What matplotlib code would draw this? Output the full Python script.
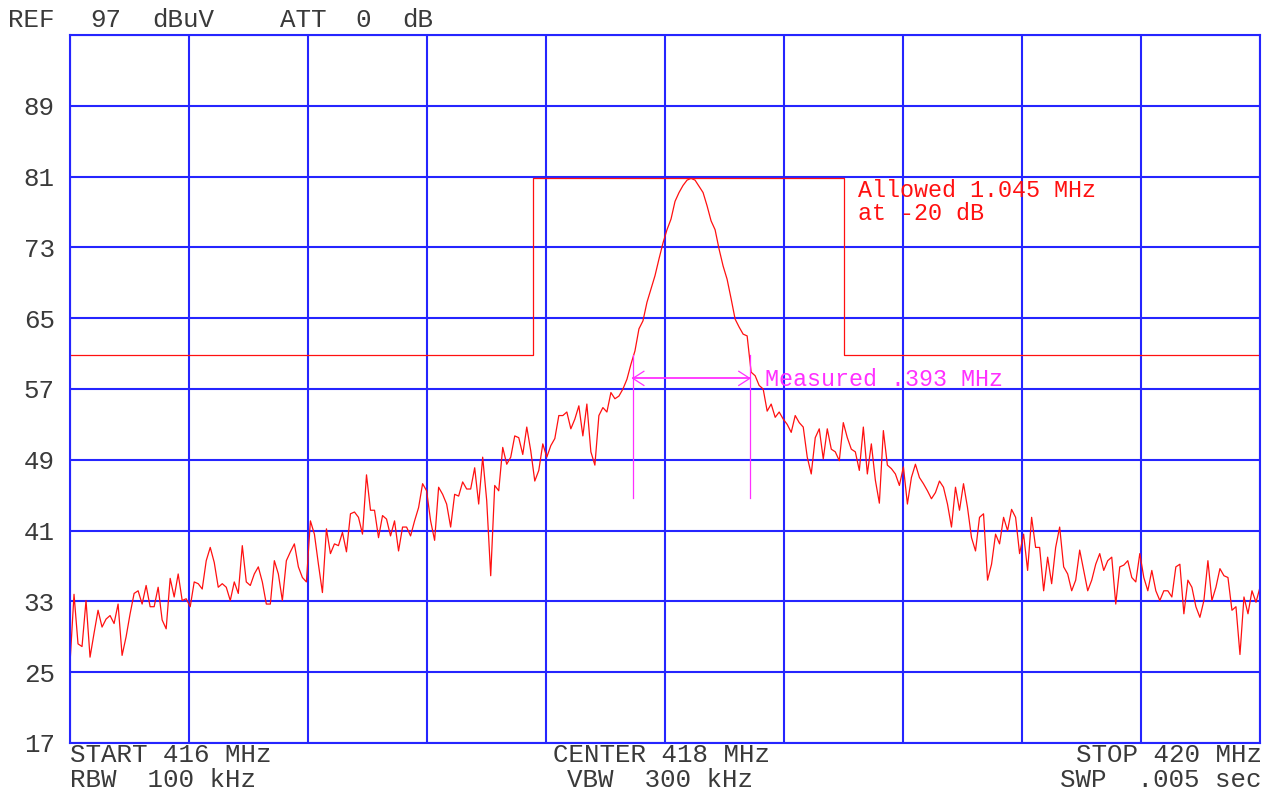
import numpy as np
import matplotlib
matplotlib.use('Agg')
import matplotlib.pyplot as plt

# Sweep settings (MHz, dBuV)
start_mhz = 416.0
stop_mhz = 420.0
ref_level = 97
db_per_div = 8

# Trace levels, evenly spaced from start to stop
trace_dbuv = [
    26.0, 33.8, 28.2, 27.9, 33.1, 26.7, 29.4, 32.0, 30.1, 31.0,
    31.4, 30.5, 32.7, 26.9, 29.0, 31.6, 33.9, 34.2, 32.7, 34.8,
    32.4, 32.4, 34.6, 30.9, 29.9, 35.6, 33.5, 36.1, 33.1, 33.3,
    32.4, 35.2, 35.0, 34.4, 37.6, 39.1, 37.4, 34.6, 35.0, 34.6,
    33.1, 35.2, 33.9, 39.3, 35.2, 34.8, 36.1, 36.9, 35.2, 32.7,
    32.7, 37.6, 36.1, 33.1, 37.6, 38.6, 39.5, 36.9, 35.7, 35.2,
    42.1, 40.6, 37.2, 34.0, 41.2, 38.4, 39.5, 39.3, 40.8, 38.6,
    42.9, 43.1, 42.5, 40.6, 47.3, 43.3, 43.3, 40.2, 42.7, 42.3,
    40.4, 42.1, 38.7, 41.4, 41.4, 40.4, 42.1, 43.6, 46.3, 45.5,
    42.1, 39.9, 45.9, 45.1, 44.0, 41.4, 45.1, 44.9, 46.5, 45.7,
    45.7, 48.1, 44.0, 49.3, 44.4, 35.9, 46.1, 45.5, 50.4, 48.5,
    49.3, 51.7, 51.5, 49.6, 52.7, 50.0, 46.6, 47.8, 50.8, 49.3,
    50.6, 51.4, 54.0, 54.0, 54.4, 52.5, 53.6, 55.1, 51.7, 55.3,
    49.9, 48.4, 54.0, 54.9, 54.4, 56.6, 55.9, 56.2, 57.0, 58.1,
    59.8, 61.3, 63.8, 64.7, 66.8, 68.3, 69.8, 71.7, 73.5, 75.0,
    76.2, 78.2, 79.2, 80.0, 80.6, 80.8, 80.6, 79.9, 79.2, 77.7,
    76.0, 75.0, 72.8, 70.9, 69.4, 67.2, 64.9, 64.0, 63.2, 63.0,
    58.9, 58.5, 57.4, 57.0, 54.5, 55.3, 53.8, 54.4, 53.6, 53.0,
    52.1, 54.0, 53.2, 52.7, 49.3, 47.4, 51.5, 52.5, 49.1, 52.5,
    50.2, 49.9, 48.9, 53.2, 51.5, 50.2, 49.9, 47.8, 52.7, 47.4,
    50.8, 46.7, 44.1, 52.3, 48.4, 48.0, 47.4, 46.1, 48.2, 44.0,
    47.0, 48.5, 47.0, 46.3, 45.5, 44.6, 45.3, 46.6, 45.9, 44.0,
    41.4, 45.9, 43.3, 46.3, 43.6, 40.2, 38.7, 42.5, 42.9, 35.4,
    37.2, 40.6, 39.5, 42.5, 41.0, 43.4, 42.5, 38.4, 40.6, 36.5,
    42.5, 39.1, 39.1, 34.2, 38.0, 35.0, 39.1, 41.4, 36.9, 36.1,
    34.2, 35.4, 38.8, 36.5, 34.2, 35.4, 37.2, 38.4, 36.5, 37.6,
    38.0, 32.7, 36.9, 37.1, 37.6, 35.7, 35.2, 38.4, 35.7, 34.2,
    36.5, 34.2, 33.1, 34.2, 34.2, 33.5, 36.9, 37.2, 31.6, 35.4,
    34.6, 32.4, 31.2, 33.1, 37.6, 33.1, 34.6, 36.7, 35.9, 35.7,
    32.0, 32.4, 27.0, 33.5, 31.6, 34.2, 32.9, 34.6,
]

# Occupied bandwidth mask (-20 dB from peak)
mask_edges_mhz = [417.556, 418.601]
mask_top = 80.8
mask_bottom = 60.8

# Measured bandwidth markers
meas_edges_mhz = [417.892, 418.285]
meas_arrow_db = 58.2
meas_line_bottom = 44.7

W, H = 1277, 798
BLUE = '#2525ff'
RED = '#ff1010'
MAG = '#ff30ff'
INK = '#3a3a3a'
FONT = dict(family='Liberation Mono')
BIG = 18.6    # ~15.5 px character pitch
SMALL = 16.8  # ~14 px character pitch


def px_text(fig, x, y, s, ha='left', size=BIG, color=INK):
    # x, y in screen pixels, y is the text baseline
    fig.text(x / W, 1 - y / H, s, ha=ha, va='baseline', fontsize=size,
             color=color, **FONT)


def main():
    fig = plt.figure(figsize=(W / 100, H / 100), dpi=100)
    ax = fig.add_axes([70 / W, (H - 743) / H, 1190 / W, 708 / H])

    freq = np.linspace(start_mhz, stop_mhz, len(trace_dbuv))
    ax.plot(freq, trace_dbuv, color=RED, lw=0.9)

    # Mask
    mx = [start_mhz, mask_edges_mhz[0], mask_edges_mhz[0], mask_edges_mhz[1],
          mask_edges_mhz[1], stop_mhz]
    my = [mask_bottom, mask_bottom, mask_top, mask_top, mask_bottom, mask_bottom]
    ax.plot(mx, my, color=RED, lw=0.9)

    # Measurement markers
    f1, f2 = meas_edges_mhz
    for f in meas_edges_mhz:
        ax.plot([f, f], [meas_line_bottom, mask_bottom], color=MAG, lw=0.9)
    ax.plot([f1, f2], [meas_arrow_db] * 2, color=MAG, lw=1.3)
    dx, dy = 0.037, 0.8
    for f, s in [(f1, 1), (f2, -1)]:
        ax.plot([f + s * dx, f, f + s * dx],
                [meas_arrow_db + dy, meas_arrow_db, meas_arrow_db - dy],
                color=MAG, lw=0.9)

    ax.text(418.336, 57.35, 'Measured .393 MHz', color=MAG,
            fontsize=SMALL, va='baseline', ha='left', **FONT)
    ax.text(418.649, 78.7, 'Allowed 1.045 MHz', color=RED,
            fontsize=SMALL, va='baseline', ha='left', **FONT)
    ax.text(418.649, 76.1, 'at -20 dB', color=RED,
            fontsize=SMALL, va='baseline', ha='left', **FONT)

    # Graticule
    ax.set_xlim(start_mhz, stop_mhz)
    ax.set_ylim(ref_level - 10 * db_per_div, ref_level)
    ax.set_xticks(np.linspace(start_mhz, stop_mhz, 11))
    yt = np.arange(ref_level - 10 * db_per_div, ref_level + 1, db_per_div)
    ax.set_yticks(yt)
    ax.set_yticklabels([str(v) if v != ref_level else '' for v in yt],
                       fontsize=BIG, color=INK, **FONT)
    ax.set_xticklabels([])
    ax.tick_params(length=0, pad=11)
    ax.grid(True, color=BLUE, lw=1.5)
    ax.set_axisbelow(True)
    for sp in ax.spines.values():
        sp.set_color(BLUE)
        sp.set_linewidth(1.5)

    # Header and footer annotations
    for x, s in [(8, 'REF'), (90, '97'), (152, 'dBuV'), (280, 'ATT'),
                 (355, '0'), (402, 'dB')]:
        px_text(fig, x, 27, s)
    px_text(fig, 70, 762, 'START 416 MHz')
    px_text(fig, 70, 787, 'RBW  100 kHz')
    px_text(fig, 553, 762, 'CENTER 418 MHz')
    px_text(fig, 567, 787, 'VBW  300 kHz')
    px_text(fig, 1262, 762, 'STOP 420 MHz', ha='right')
    px_text(fig, 1262, 787, 'SWP  .005 sec', ha='right')

    fig.savefig('out.png', dpi=100, facecolor='white')


if __name__ == '__main__':
    main()
